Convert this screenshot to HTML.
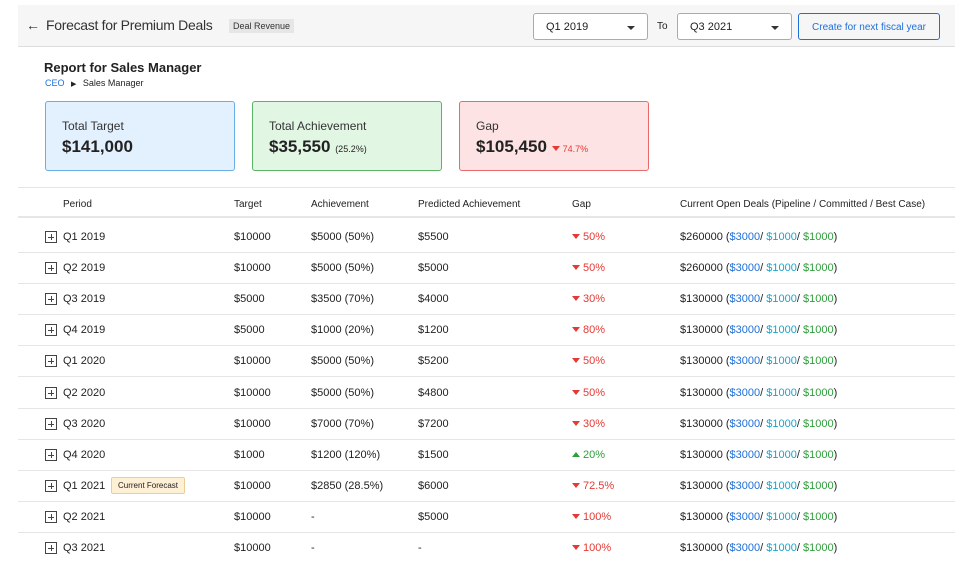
<!DOCTYPE html>
<html><head><style>
*{margin:0;padding:0;box-sizing:border-box}
body{width:964px;height:581px;background:#fff;font-family:"Liberation Sans",sans-serif;color:#222;position:relative;overflow:hidden}
.a{position:absolute;white-space:nowrap}
.hdr{left:18px;top:5px;width:937px;height:42px;background:#f6f6f6;border-bottom:1px solid #ddd}
.sel{top:13px;height:27px;border:1px solid #aaa;border-radius:3px;background:#fff;font-size:11px;padding:7px 12px}
.sel:after{content:"";position:absolute;right:12px;top:12px;border:4px solid transparent;border-top:4px solid #333}
.card{top:101px;width:190px;height:70px;border-radius:3px;padding:17px 0 0 16px}
.card .t{font-size:12px;color:#333}
.card .v{font-size:17px;font-weight:bold;margin-top:4px;color:#222}
.card .v small{font-size:9px;font-weight:normal}
.line{left:18px;width:937px;height:1px;background:#e6e6e6}
.th{top:199px;font-size:10px;color:#222}
.r{font-size:11px}
.plus{width:12px;height:12px;border:1px solid #444;}
.plus:before{content:"";position:absolute;left:2px;top:5px;width:6px;height:1px;background:#444}
.plus:after{content:"";position:absolute;left:5px;top:2px;width:1px;height:6px;background:#444}
.red{color:#e53935}.grn{color:#2e9e3a}
.b1{color:#1e6fd9}.b2{color:#1aa3c8}.g{color:#2e9e3a}
.dn{display:inline-block;border:4px solid transparent;border-top:5px solid #e53935;border-bottom:0;margin-right:3px;vertical-align:1px}
.up{display:inline-block;border:4px solid transparent;border-bottom:5px solid #2e9e3a;border-top:0;margin-right:3px;vertical-align:1px}
</style></head><body>
<div class="a hdr"></div>
<div class="a" style="left:26px;top:17px;font-size:14px;color:#333">←</div>
<div class="a" style="left:46px;top:17px;font-size:14px;color:#333;letter-spacing:-0.3px">Forecast for Premium Deals</div>
<div class="a" style="left:229px;top:19px;font-size:9px;background:#e6e6e6;padding:2px 4px;color:#333">Deal Revenue</div>
<div class="a sel" style="left:533px;width:115px">Q1 2019</div>
<div class="a" style="left:657px;top:21px;font-size:10px">To</div>
<div class="a sel" style="left:677px;width:115px">Q3 2021</div>
<div class="a" style="left:798px;top:13px;width:142px;height:27px;border:1px solid #1e6fd9;border-radius:3px;font-size:10px;color:#1e6fd9;text-align:center;padding-top:8px">Create for next fiscal year</div>
<div class="a" style="left:44px;top:60px;font-size:13px;font-weight:bold">Report for Sales Manager</div>
<div class="a" style="left:45px;top:78px;font-size:9px"><span style="color:#1e6fd9">CEO</span> <span style="font-size:7px;margin:0 4px">▶</span> Sales Manager</div>
<div class="a card" style="left:45px;background:#e3f0fd;border:1px solid #6aaee6"><div class="t">Total Target</div><div class="v">$141,000</div></div>
<div class="a card" style="left:252px;background:#e2f6e4;border:1px solid #5cb466"><div class="t">Total Achievement</div><div class="v">$35,550 <small>(25.2%)</small></div></div>
<div class="a card" style="left:459px;background:#fde3e3;border:1px solid #e86a6a"><div class="t">Gap</div><div class="v">$105,450 <small class="red"><span class="dn"></span>74.7%</small></div></div>
<div class="a line" style="top:187px"></div>
<div class="a th" style="left:63px">Period</div>
<div class="a th" style="left:234px">Target</div>
<div class="a th" style="left:311px">Achievement</div>
<div class="a th" style="left:418px">Predicted Achievement</div>
<div class="a th" style="left:572px">Gap</div>
<div class="a th" style="left:680px">Current Open Deals (Pipeline / Committed / Best Case)</div>
<div class="a line" style="top:216px;height:2px"></div>
<div id="rows"></div>
<script>
var d=[["Q1 2019","$10000","$5000 (50%)","$5500","d50%","$260000"],
["Q2 2019","$10000","$5000 (50%)","$5000","d50%","$260000"],
["Q3 2019","$5000","$3500 (70%)","$4000","d30%","$130000"],
["Q4 2019","$5000","$1000 (20%)","$1200","d80%","$130000"],
["Q1 2020","$10000","$5000 (50%)","$5200","d50%","$130000"],
["Q2 2020","$10000","$5000 (50%)","$4800","d50%","$130000"],
["Q3 2020","$10000","$7000 (70%)","$7200","d30%","$130000"],
["Q4 2020","$1000","$1200 (120%)","$1500","u20%","$130000"],
["Q1 2021","$10000","$2850 (28.5%)","$6000","d72.5%","$130000"],
["Q2 2021","$10000","-","$5000","d100%","$130000"],
["Q3 2021","$10000","-","-","d100%","$130000"]];
var h="";
d.forEach(function(r,i){var y=Math.round(237+i*31.1);var t=y-6;
h+='<div class="a plus" style="left:45px;top:'+(y-6)+'px"></div>';
h+='<div class="a r" style="left:63px;top:'+t+'px">'+r[0]+'</div>';
if(i==8)h+='<div class="a" style="left:111px;top:'+(y-9)+'px;font-size:8px;background:#fdf0d5;border:1px solid #e8cf98;border-radius:2px;padding:3px 6px">Current Forecast</div>';
h+='<div class="a r" style="left:234px;top:'+t+'px">'+r[1]+'</div>';
h+='<div class="a r" style="left:311px;top:'+t+'px">'+r[2]+'</div>';
h+='<div class="a r" style="left:418px;top:'+t+'px">'+r[3]+'</div>';
var up=r[4][0]=="u";
h+='<div class="a r '+(up?'grn':'red')+'" style="left:572px;top:'+t+'px"><span class="'+(up?'up':'dn')+'"></span>'+r[4].slice(1)+'</div>';
h+='<div class="a r" style="left:680px;top:'+t+'px">'+r[5]+' (<span class="b1">$3000</span>/ <span class="b2">$1000</span>/ <span class="g">$1000</span>)</div>';
if(i<10)h+='<div class="a line" style="top:'+(y+15)+'px"></div>';
});
document.getElementById("rows").innerHTML=h;
</script>
</body></html>
